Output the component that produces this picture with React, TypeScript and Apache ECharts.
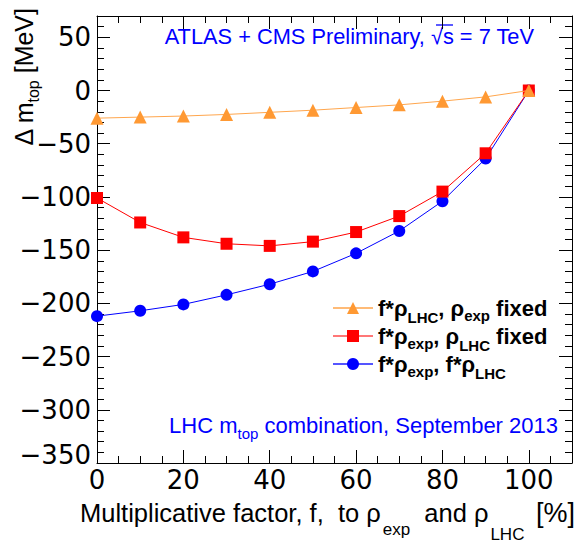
import React, { useEffect, useRef } from "react";
import * as echarts from "echarts";

const fValues = [0, 10, 20, 30, 40, 50, 60, 70, 80, 90, 100];
const lhcScaledExpFixed = [-26, -25, -24, -22.5, -20.5, -18.5, -16, -13.5, -10, -6, 0];
const expScaledLhcFixed = [-101, -124, -138, -144, -146, -142, -133, -118, -95, -59, 0];
const bothScaled = [-212, -207, -201, -192, -182, -170, -153, -132, -104, -64, 0];

const seriesNames = ["f*ρLHC, ρexp fixed", "f*ρexp, ρLHC fixed", "f*ρexp, f*ρLHC"];
const legendRich = [
  "{b|f*ρ}{sl|LHC}{b|, ρ}{se|exp}{b| fixed}",
  "{b|f*ρ}{se|exp}{b|, ρ}{sl|LHC}{b| fixed}",
  "{b|f*ρ}{se|exp}{b|, f*ρ}{sl|LHC}",
];

const FONT = "'Liberation Sans', Arial, Helvetica, sans-serif";
const TICK_FONT = "'DejaVu Sans', 'Liberation Sans', sans-serif";

export default function App() {
  const ref = useRef<HTMLDivElement>(null);
  useEffect(() => {
    if (!ref.current) return;
    const chart = echarts.init(ref.current, undefined, { renderer: "svg" });
    const toData = (arr: number[]) => fValues.map((f, i) => [f, arr[i]]);
    const majorX = {
      type: "value",
      min: 0,
      max: 110,
      interval: 20,
      axisLine: { show: true, onZero: false, lineStyle: { color: "#000", width: 1 } },
      axisTick: { show: true, inside: true, length: 13, lineStyle: { color: "#000", width: 1 } },
      splitLine: { show: false },
    };
    const minorX = {
      type: "value",
      min: 0,
      max: 110,
      interval: 5,
      axisLine: { show: false, onZero: false },
      axisTick: { show: true, inside: true, length: 7, lineStyle: { color: "#000", width: 1 } },
      axisLabel: { show: false },
      splitLine: { show: false },
    };
    const majorY = {
      type: "value",
      min: -350,
      max: 70,
      interval: 50,
      axisLine: { show: true, onZero: false, lineStyle: { color: "#000", width: 1 } },
      axisTick: { show: true, inside: true, length: 13, lineStyle: { color: "#000", width: 1 } },
      splitLine: { show: false },
    };
    const minorY = {
      type: "value",
      min: -350,
      max: 70,
      interval: 10,
      axisLine: { show: false, onZero: false },
      axisTick: { show: true, inside: true, length: 7, lineStyle: { color: "#000", width: 1 } },
      axisLabel: { show: false },
      splitLine: { show: false },
    };
    const option: any = {
      animation: false,
      backgroundColor: "#fff",
      grid: { left: 97, top: 16, width: 481, height: 447, containLabel: false },
      xAxis: [
        {
          ...majorX,
          position: "bottom",
          axisLabel: {
            show: true,
            color: "#000",
            fontSize: 26,
            fontFamily: TICK_FONT,
            margin: 4,
            formatter: (v: number) => (v % 20 === 0 && v <= 100 ? String(v) : ""),
          },
        },
        { ...minorX, position: "bottom" },
        { ...majorX, position: "top", axisLabel: { show: false } },
        { ...minorX, position: "top" },
      ],
      yAxis: [
        {
          ...majorY,
          position: "left",
          axisLabel: {
            show: true,
            color: "#000",
            fontSize: 26,
            fontFamily: TICK_FONT,
            margin: 6,
            formatter: (v: number) => {
              if (v % 50 !== 0 || v > 50) return "";
              const s = String(v).replace("-", "\u2212");
              return v === -350 ? "{lo|" + s + "}" : s;
            },
            rich: {
              lo: { fontSize: 26, fontFamily: TICK_FONT, color: "#000", padding: [0, 0, 16, 0] },
            },
          },
        },
        { ...minorY, position: "left" },
        { ...majorY, position: "right", axisLabel: { show: false } },
        { ...minorY, position: "right" },
      ],
      legend: {
        orient: "vertical",
        left: 332,
        top: 297,
        padding: 0,
        itemGap: 0,
        itemWidth: 40,
        itemHeight: 15,
        data: [
          { name: seriesNames[0], lineStyle: { color: "#ffbb77", width: 2 } },
          { name: seriesNames[1], lineStyle: { color: "#ff7777", width: 2 } },
          { name: seriesNames[2], lineStyle: { color: "#5555ff", width: 2 } },
        ],
        formatter: (name: string) => legendRich[seriesNames.indexOf(name)],
        textStyle: {
          rich: {
            b: { fontSize: 22, fontWeight: "bold", fontFamily: FONT, color: "#000", lineHeight: 36 },
            se: { fontSize: 15, fontWeight: "bold", fontFamily: FONT, color: "#000", padding: [15, 0, 0, 0] },
            sl: { fontSize: 15, fontWeight: "bold", fontFamily: FONT, color: "#000", padding: [19, 0, 0, 0] },
          },
        },
      },
      series: [
        {
          name: seriesNames[2],
          type: "line",
          xAxisIndex: 0,
          yAxisIndex: 0,
          data: toData(bothScaled),
          symbol: "circle",
          symbolSize: 12,
          itemStyle: { color: "#0000ff" },
          lineStyle: { color: "#0000ff", width: 1 },
          z: 2,
        },
        {
          name: seriesNames[1],
          type: "line",
          xAxisIndex: 0,
          yAxisIndex: 0,
          data: toData(expScaledLhcFixed),
          symbol: "rect",
          symbolSize: 12,
          itemStyle: { color: "#ff0000" },
          lineStyle: { color: "#ff0000", width: 1 },
          z: 3,
        },
        {
          name: seriesNames[0],
          type: "line",
          xAxisIndex: 0,
          yAxisIndex: 0,
          data: toData(lhcScaledExpFixed),
          symbol: "triangle",
          symbolSize: 13,
          itemStyle: { color: "#ff9933" },
          lineStyle: { color: "#ffa64d", width: 1 },
          z: 4,
        },
      ],
      graphic: [
        {
          type: "text",
          x: 534,
          y: 36,
          style: {
            text: "ATLAS + CMS Preliminary, √s = 7 TeV",
            fontSize: 21.8,
            fontFamily: FONT,
            fill: "#0000ff",
            align: "right",
            verticalAlign: "middle",
          },
        },
        {
          type: "line",
          shape: { x1: 436, y1: 25, x2: 453, y2: 25 },
          style: { stroke: "#0000ff", lineWidth: 1.3 },
        },
        {
          type: "text",
          x: 558,
          y: 425,
          style: {
            text: "{n|LHC m}{s|top}{n| combination, September 2013}",
            align: "right",
            verticalAlign: "middle",
            rich: {
              n: { fontSize: 22, fontFamily: FONT, fill: "#0000ff", color: "#0000ff", lineHeight: 28 },
              s: { fontSize: 15, fontFamily: FONT, fill: "#0000ff", color: "#0000ff", padding: [17, 0, 0, 0] },
            },
          },
        },
        {
          type: "text",
          x: 80,
          y: 513,
          style: {
            text: "{n|Multiplicative factor, f,  to ρ}{se|exp}{n| and ρ}{sl|LHC}{e| [%]}",
            align: "left",
            verticalAlign: "middle",
            rich: {
              n: { fontSize: 25.5, fontFamily: FONT, fill: "#000", color: "#000", lineHeight: 30 },
              e: { fontSize: 27, fontFamily: FONT, fill: "#000", color: "#000", lineHeight: 30 },
              se: { fontSize: 17, fontFamily: FONT, fill: "#000", color: "#000", padding: [32, 7, 0, 2] },
              sl: { fontSize: 17, fontFamily: FONT, fill: "#000", color: "#000", padding: [42, 4, 0, 2] },
            },
          },
        },
        {
          type: "text",
          x: 24,
          y: 8,
          rotation: Math.PI / 2,
          style: {
            text: "{n|Δ m}{s|top}{n| [MeV]}",
            align: "right",
            verticalAlign: "middle",
            rich: {
              n: { fontSize: 25, fontFamily: FONT, fill: "#000", color: "#000", lineHeight: 30 },
              s: { fontSize: 16, fontFamily: FONT, fill: "#000", color: "#000", padding: [18, 0, 0, 0] },
            },
          },
        },
      ],
    };
    chart.setOption(option);
    return () => chart.dispose();
  }, []);
  return (
    <div
      ref={ref}
      style={{ position: "fixed", left: 0, top: 0, width: 575, height: 548, background: "#fff" }}
    />
  );
}
